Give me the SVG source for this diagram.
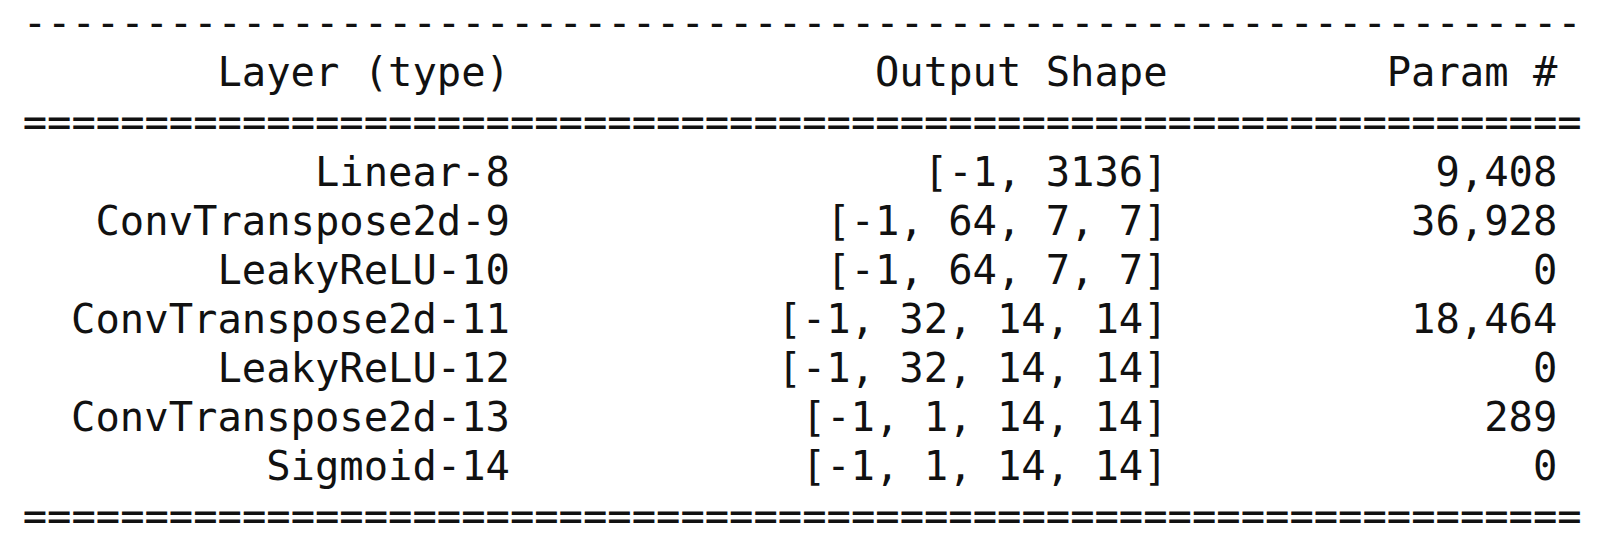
<svg xmlns="http://www.w3.org/2000/svg" width="1600" height="541" viewBox="0 0 1600 541">
<style>
text{font-family:"DejaVu Sans Mono","Liberation Mono",monospace;font-size:40.5px;fill:#111;white-space:pre}
.c1,.c2,.c3{text-anchor:end}
</style>
<rect width="1600" height="541" fill="#fff"/>
<g id="rules">
<text x="22.7" y="37" textLength="1559" lengthAdjust="spacingAndGlyphs">----------------------------------------------------------------</text>
<text x="22.7" y="136" textLength="1559" lengthAdjust="spacingAndGlyphs">================================================================</text>
<text x="22.7" y="530" textLength="1559" lengthAdjust="spacingAndGlyphs">================================================================</text>
</g>
<g id="header">
<text class="c1" x="510" y="86">Layer (type)</text>
<text class="c2" x="1167.6" y="86">Output Shape</text>
<text class="c3" x="1557.4" y="86">Param #</text>
</g>
<g id="row-linear-8">
<text class="c1" x="510" y="186">Linear-8</text>
<text class="c2" x="1167.6" y="186">[-1, 3136]</text>
<text class="c3" x="1557.4" y="186">9,408</text>
</g>
<g id="row-convtranspose2d-9">
<text class="c1" x="510" y="235">ConvTranspose2d-9</text>
<text class="c2" x="1167.6" y="235">[-1, 64, 7, 7]</text>
<text class="c3" x="1557.4" y="235">36,928</text>
</g>
<g id="row-leakyrelu-10">
<text class="c1" x="510" y="284">LeakyReLU-10</text>
<text class="c2" x="1167.6" y="284">[-1, 64, 7, 7]</text>
<text class="c3" x="1557.4" y="284">0</text>
</g>
<g id="row-convtranspose2d-11">
<text class="c1" x="510" y="333">ConvTranspose2d-11</text>
<text class="c2" x="1167.6" y="333">[-1, 32, 14, 14]</text>
<text class="c3" x="1557.4" y="333">18,464</text>
</g>
<g id="row-leakyrelu-12">
<text class="c1" x="510" y="382">LeakyReLU-12</text>
<text class="c2" x="1167.6" y="382">[-1, 32, 14, 14]</text>
<text class="c3" x="1557.4" y="382">0</text>
</g>
<g id="row-convtranspose2d-13">
<text class="c1" x="510" y="431">ConvTranspose2d-13</text>
<text class="c2" x="1167.6" y="431">[-1, 1, 14, 14]</text>
<text class="c3" x="1557.4" y="431">289</text>
</g>
<g id="row-sigmoid-14">
<text class="c1" x="510" y="480">Sigmoid-14</text>
<text class="c2" x="1167.6" y="480">[-1, 1, 14, 14]</text>
<text class="c3" x="1557.4" y="480">0</text>
</g>
</svg>
